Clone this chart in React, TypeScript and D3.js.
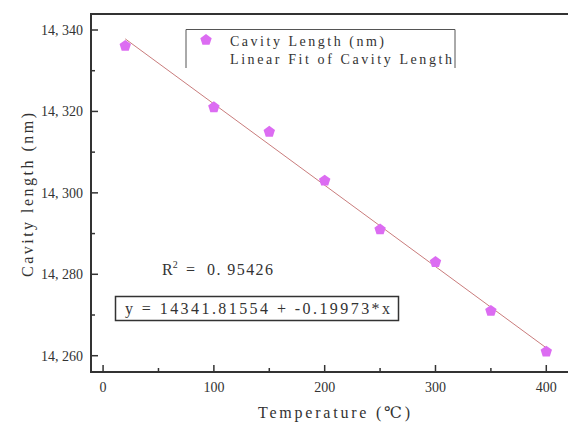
import React from "react";
import * as d3 from "d3";

const temperatures = [20, 100, 150, 200, 250, 300, 350, 400];
const cavityLength = [14336.1, 14321.0, 14315.0, 14303.0, 14291.0, 14283.0, 14271.0, 14261.0];
const fitIntercept = 14341.81554;
const fitSlope = -0.19973;
const rSquared = "0. 95426";
const xTicks = [0, 100, 200, 300, 400];
const yTicks = [14260, 14280, 14300, 14320, 14340];
const legendLabels = ["Cavity Length (nm)", "Linear Fit of Cavity Length"];

const W = 568;
const H = 424;
const left = 91;
const right = 570;
const top = 14;
const bottom = 372;

const FONT = "'Liberation Serif', 'DejaVu Serif', serif";

function pentagon(cx: number, cy: number, r: number) {
  const pts: string[] = [];
  for (let i = 0; i < 5; i++) {
    const a = -Math.PI / 2 + (i * 2 * Math.PI) / 5;
    pts.push(`${cx + r * Math.cos(a)},${cy + r * Math.sin(a)}`);
  }
  return pts.join(" ");
}

export default function App() {
  const x = d3.scaleLinear().domain([-10.9, 421.4]).range([left, right]);
  const y = d3.scaleLinear().domain([14256.0, 14343.93]).range([bottom, top]);

  const fmt = (v: number) => {
    const s = String(v);
    return s.slice(0, s.length - 3) + ", " + s.slice(s.length - 3);
  };

  const xMinor = d3.range(50, 420, 100);
  const yMinor = d3.range(14270, 14340, 20);

  const line = d3
    .line<number>()
    .x((t) => x(t))
    .y((t) => y(fitIntercept + fitSlope * t));

  const axisColor = "#333";
  const markerColor = "#dc6cf2";
  const lineColor = "#c97c7c";

  return (
    <svg
      width={W}
      height={H}
      style={{ position: "absolute", left: 0, top: 0, background: "#fff" }}
    >
      <rect width={W} height={H} fill="#fff" />
      {/* fit line */}
      <path d={line([20, 400]) || ""} fill="none" stroke={lineColor} strokeWidth={1} />
      {/* points */}
      {temperatures.map((t, i) => (
        <polygon key={i} points={pentagon(x(t), y(cavityLength[i]), 6)} fill={markerColor} />
      ))}
      {/* axes */}
      <line x1={left} x2={left} y1={top} y2={bottom + 1} stroke={axisColor} strokeWidth={2} />
      <line x1={left - 1} x2={right} y1={bottom} y2={bottom} stroke={axisColor} strokeWidth={2} />
      <line x1={left - 1} x2={right} y1={top} y2={top} stroke={axisColor} strokeWidth={2} />
      {yTicks.map((v) => (
        <g key={v}>
          <line x1={left} x2={left + 7} y1={y(v)} y2={y(v)} stroke={axisColor} strokeWidth={1.5} />
          <text
            x={left - 8}
            y={y(v) + 5}
            textAnchor="end"
            fontFamily={FONT}
            fontSize={14}
            fill="#333"
          >
            {fmt(v)}
          </text>
        </g>
      ))}
      {yMinor.map((v) => (
        <line key={v} x1={left} x2={left + 4} y1={y(v)} y2={y(v)} stroke={axisColor} strokeWidth={1.5} />
      ))}
      {xTicks.map((v) => (
        <g key={v}>
          <line x1={x(v)} x2={x(v)} y1={bottom} y2={bottom - 7} stroke={axisColor} strokeWidth={1.5} />
          <text
            x={x(v)}
            y={392}
            textAnchor="middle"
            fontFamily={FONT}
            fontSize={14}
            fill="#333"
          >
            {v}
          </text>
        </g>
      ))}
      {xMinor.map((v) => (
        <line key={v} x1={x(v)} x2={x(v)} y1={bottom} y2={bottom - 4} stroke={axisColor} strokeWidth={1.5} />
      ))}
      {/* axis titles */}
      <text
        x={258}
        y={418}
        fontFamily={FONT}
        fontSize={16}
        fill="#333"
        textLength={152}
        lengthAdjust="spacing"
      >
        Temperature (℃)
      </text>
      <text
        transform="translate(33,277) rotate(-90)"
        fontFamily={FONT}
        fontSize={16}
        fill="#333"
        textLength={164}
        lengthAdjust="spacing"
      >
        Cavity length (nm)
      </text>
      {/* legend */}
      <path d="M186,68 V29.5 H455 V68" fill="none" stroke="#555" strokeWidth={1} />
      <polygon points={pentagon(206, 40, 6)} fill={markerColor} />
      <text x={230} y={46} fontFamily={FONT} fontSize={14} fill="#333" textLength={154} lengthAdjust="spacing">
        {legendLabels[0]}
      </text>
      <text x={230} y={64} fontFamily={FONT} fontSize={14} fill="#333" textLength={222} lengthAdjust="spacing">
        {legendLabels[1]}
      </text>
      {/* R^2 */}
      <text x={162} y={275} fontFamily={FONT} fontSize={16} fill="#333">
        R<tspan dy={-7} fontSize={10}>2</tspan>
      </text>
      <text x={186} y={275} fontFamily={FONT} fontSize={16} fill="#333">=</text>
      <text x={207} y={275} fontFamily={FONT} fontSize={16} fill="#333" textLength={66} lengthAdjust="spacing">
        {rSquared}
      </text>
      {/* equation box */}
      <rect x={115.5} y={296.5} width={283} height={24} fill="#fff" stroke="#333" strokeWidth={1.5} />
      <text x={125} y={314} fontFamily={FONT} fontSize={16} fill="#333" textLength={265} lengthAdjust="spacing">
        {`y = ${fitIntercept.toFixed(5)} + ${fitSlope.toFixed(5)}*x`}
      </text>
    </svg>
  );
}
